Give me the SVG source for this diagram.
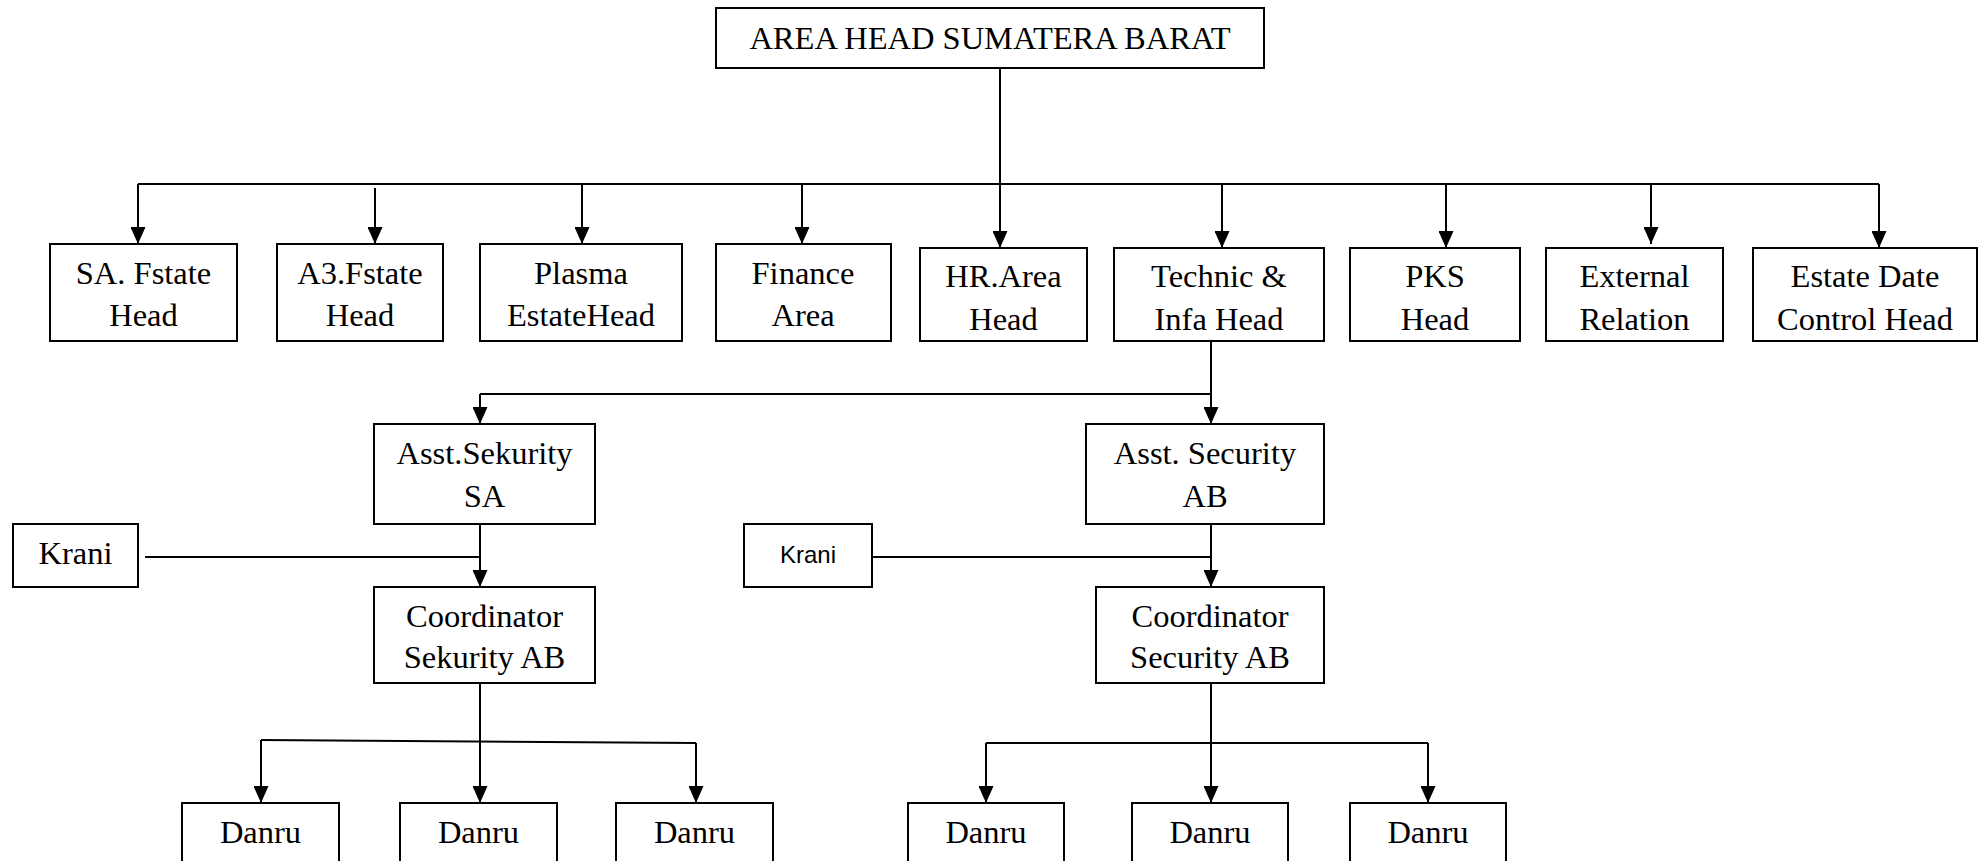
<svg xmlns="http://www.w3.org/2000/svg" width="1982" height="861" viewBox="0 0 1982 861">
<style>
  .box { fill: #ffffff; stroke: #000000; stroke-width: 2; }
  .t { font-family: "Liberation Serif", "Times New Roman", serif; font-size: 32.5px; fill: #000000; text-anchor: middle; }
  .ts { font-family: "Liberation Sans", Arial, sans-serif; font-size: 24px; fill: #000000; text-anchor: middle; }
  .c { fill: none; stroke: #000000; stroke-width: 2; }
  .a { marker-end: url(#arr); }
</style>
<defs>
  <marker id="arr" markerUnits="userSpaceOnUse" markerWidth="18" markerHeight="15" refX="17" refY="7.5" orient="auto">
    <path d="M0,0 L17,7.5 L0,15 z" fill="#000000"/>
  </marker>
</defs>
<rect width="1982" height="861" fill="#ffffff"/>

<g id="connectors">
  <line class="c" x1="1000" y1="68" x2="1000" y2="184"/>
  <line class="c" x1="138" y1="184" x2="1879" y2="184"/>
  <line class="c a" x1="138" y1="184" x2="138" y2="244"/>
  <line class="c a" x1="375" y1="188" x2="375" y2="244"/>
  <line class="c a" x1="582" y1="184" x2="582" y2="244"/>
  <line class="c a" x1="802" y1="184" x2="802" y2="244"/>
  <line class="c a" x1="1000" y1="184" x2="1000" y2="248"/>
  <line class="c a" x1="1222" y1="184" x2="1222" y2="248"/>
  <line class="c a" x1="1446" y1="184" x2="1446" y2="248"/>
  <line class="c a" x1="1651" y1="184" x2="1651" y2="244"/>
  <line class="c a" x1="1879" y1="184" x2="1879" y2="248"/>

  <line class="c" x1="1211" y1="341" x2="1211" y2="394"/>
  <line class="c" x1="480" y1="394" x2="1211" y2="394"/>
  <line class="c a" x1="480" y1="394" x2="480" y2="424"/>
  <line class="c a" x1="1211" y1="394" x2="1211" y2="424"/>

  <line class="c a" x1="480" y1="524" x2="480" y2="587"/>
  <line class="c" x1="145" y1="557" x2="480" y2="557"/>
  <line class="c a" x1="1211" y1="524" x2="1211" y2="587"/>
  <line class="c" x1="872" y1="557" x2="1211" y2="557"/>

  <line class="c" x1="480" y1="683" x2="480" y2="742"/>
  <line class="c" x1="261" y1="740" x2="696" y2="743"/>
  <line class="c a" x1="261" y1="740" x2="261" y2="803"/>
  <line class="c a" x1="480" y1="742" x2="480" y2="803"/>
  <line class="c a" x1="696" y1="743" x2="696" y2="803"/>

  <line class="c" x1="1211" y1="683" x2="1211" y2="743"/>
  <line class="c" x1="986" y1="743" x2="1428" y2="743"/>
  <line class="c a" x1="986" y1="743" x2="986" y2="803"/>
  <line class="c a" x1="1211" y1="743" x2="1211" y2="803"/>
  <line class="c a" x1="1428" y1="743" x2="1428" y2="803"/>
</g>

<g id="n-area-head">
  <rect class="box" x="716" y="8" width="548" height="60"/>
  <text class="t" x="990" y="49">AREA HEAD SUMATERA BARAT</text>
</g>

<g id="n-sa-fstate">
  <rect class="box" x="50" y="244" width="187" height="97"/>
  <text class="t" x="143.5" y="284">SA. Fstate</text>
  <text class="t" x="143.5" y="326">Head</text>
</g>
<g id="n-a3-fstate">
  <rect class="box" x="277" y="244" width="166" height="97"/>
  <text class="t" x="360" y="284">A3.Fstate</text>
  <text class="t" x="360" y="326">Head</text>
</g>
<g id="n-plasma">
  <rect class="box" x="480" y="244" width="202" height="97"/>
  <text class="t" x="581" y="284">Plasma</text>
  <text class="t" x="581" y="326">EstateHead</text>
</g>
<g id="n-finance">
  <rect class="box" x="716" y="244" width="175" height="97"/>
  <text class="t" x="803" y="284">Finance</text>
  <text class="t" x="803" y="326">Area</text>
</g>
<g id="n-hr">
  <rect class="box" x="920" y="248" width="167" height="93"/>
  <text class="t" x="1003.5" y="287">HR.Area</text>
  <text class="t" x="1003.5" y="330">Head</text>
</g>
<g id="n-technic">
  <rect class="box" x="1114" y="248" width="210" height="93"/>
  <text class="t" x="1219" y="287">Technic &amp;</text>
  <text class="t" x="1219" y="330">Infa Head</text>
</g>
<g id="n-pks">
  <rect class="box" x="1350" y="248" width="170" height="93"/>
  <text class="t" x="1435" y="287">PKS</text>
  <text class="t" x="1435" y="330">Head</text>
</g>
<g id="n-external">
  <rect class="box" x="1546" y="248" width="177" height="93"/>
  <text class="t" x="1634.5" y="287">External</text>
  <text class="t" x="1634.5" y="330">Relation</text>
</g>
<g id="n-estate-date">
  <rect class="box" x="1753" y="248" width="224" height="93"/>
  <text class="t" x="1865" y="287">Estate Date</text>
  <text class="t" x="1865" y="330">Control Head</text>
</g>

<g id="n-asst-sa">
  <rect class="box" x="374" y="424" width="221" height="100"/>
  <text class="t" x="484.5" y="464">Asst.Sekurity</text>
  <text class="t" x="484.5" y="507">SA</text>
</g>
<g id="n-asst-ab">
  <rect class="box" x="1086" y="424" width="238" height="100"/>
  <text class="t" x="1205" y="464">Asst. Security</text>
  <text class="t" x="1205" y="507">AB</text>
</g>
<g id="n-krani-left">
  <rect class="box" x="13" y="524" width="125" height="63"/>
  <text class="t" x="75.5" y="564">Krani</text>
</g>
<g id="n-krani-right">
  <rect class="box" x="744" y="524" width="128" height="63"/>
  <text class="ts" x="808" y="563">Krani</text>
</g>
<g id="n-coord-sa">
  <rect class="box" x="374" y="587" width="221" height="96"/>
  <text class="t" x="484.5" y="627">Coordinator</text>
  <text class="t" x="484.5" y="668">Sekurity AB</text>
</g>
<g id="n-coord-ab">
  <rect class="box" x="1096" y="587" width="228" height="96"/>
  <text class="t" x="1210" y="627">Coordinator</text>
  <text class="t" x="1210" y="668">Security AB</text>
</g>

<g id="n-danru-1">
  <rect class="box" x="182" y="803" width="157" height="70"/>
  <text class="t" x="260.5" y="843">Danru</text>
</g>
<g id="n-danru-2">
  <rect class="box" x="400" y="803" width="157" height="70"/>
  <text class="t" x="478.5" y="843">Danru</text>
</g>
<g id="n-danru-3">
  <rect class="box" x="616" y="803" width="157" height="70"/>
  <text class="t" x="694.5" y="843">Danru</text>
</g>
<g id="n-danru-4">
  <rect class="box" x="908" y="803" width="156" height="70"/>
  <text class="t" x="986" y="843">Danru</text>
</g>
<g id="n-danru-5">
  <rect class="box" x="1132" y="803" width="156" height="70"/>
  <text class="t" x="1210" y="843">Danru</text>
</g>
<g id="n-danru-6">
  <rect class="box" x="1350" y="803" width="156" height="70"/>
  <text class="t" x="1428" y="843">Danru</text>
</g>
</svg>
